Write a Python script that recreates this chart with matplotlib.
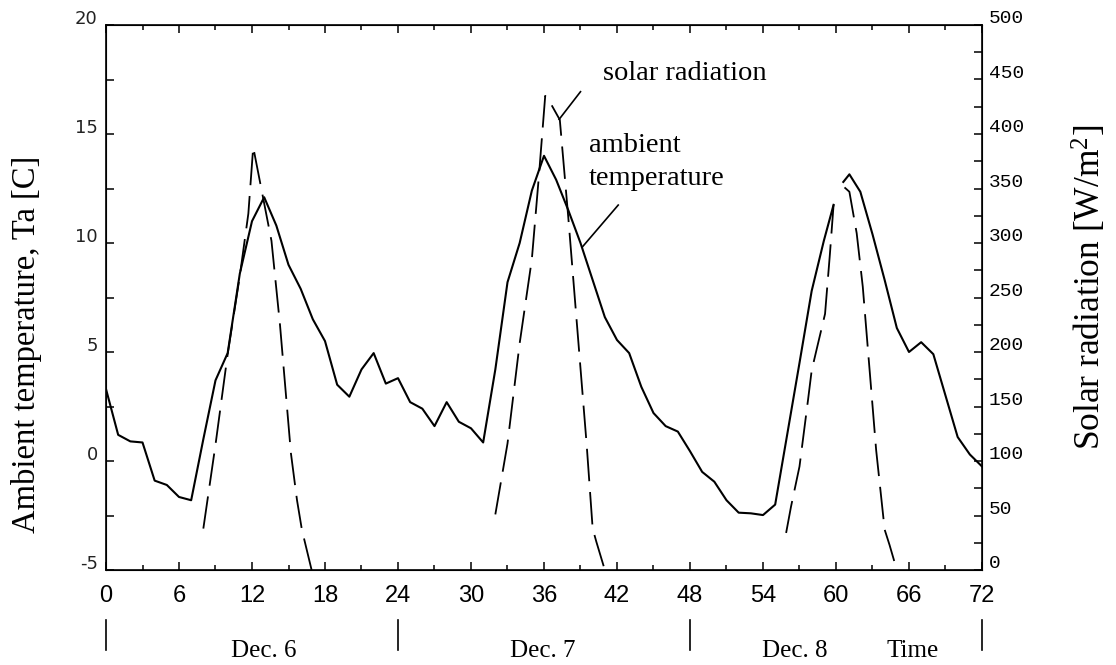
import numpy as np
import matplotlib
matplotlib.use("Agg")
import matplotlib.pyplot as plt
from matplotlib.ticker import MultipleLocator, FuncFormatter
from matplotlib.transforms import ScaledTranslation

plt.rcParams["mathtext.fontset"] = "custom"
plt.rcParams["mathtext.rm"] = "Liberation Serif"
plt.rcParams["mathtext.it"] = "Liberation Serif:italic"

nan = np.nan

# ambient temperature [C], hourly (gap near t=60 as in the original trace)
temp_hours = list(range(0, 60)) + [59.8, 60.3, 60.6, 61.1] + list(range(62, 73))
temp = [3.3, 1.2, 0.9, 0.85, -0.9, -1.1, -1.65, -1.8, 1.0, 3.7,
        4.95, 8.6, 11.0, 12.1, 10.8, 9.0, 7.9, 6.5, 5.5, 3.5,
        2.95, 4.2, 4.95, 3.55, 3.8, 2.7, 2.4, 1.6, 2.7, 1.8,
        1.5, 0.85, 4.2, 8.2, 10.0, 12.4, 14.0, 12.9, 11.5, 10.0,
        8.3, 6.6, 5.55, 4.95, 3.4, 2.2, 1.6, 1.35, 0.45, -0.5,
        -0.95, -1.8, -2.37, -2.4, -2.48, -2.0, 1.25, 4.5, 7.8, 10.1,
        11.75, nan, 12.8, 13.15,
        12.35, 10.4, 8.3, 6.1, 5.0, 5.45, 4.9, 3.0, 1.1, 0.3, -0.25]

# solar radiation [W/m2], three days
solar_hours_d6 = [8.0, 9.0, 10.0, 11.0, 11.7, 12.1, 13.6, 14.3, 15.2, 15.7, 16.1, 16.9]
solar_d6 = [38, 115, 198, 270, 327, 388, 302, 225, 107, 64, 37, 0]
solar_hours_d7 = [32.0, 33.0, 34.0, 35.0, 35.6, 36.1, 36.4, 37.3, 38.0, 39.0, 39.5, 40.0, 40.3, 41.0]
solar_d7 = [51, 116, 208, 285, 364, 435, 431, 413, 323, 185, 116, 38, 26, 0]
solar_hours_d8 = [55.9, 56.3, 57.0, 57.7, 58.0, 58.4, 59.1, 59.5, 59.8, 60.3,
                  60.7, 61.1, 61.7, 62.2, 63.0, 63.3, 64.0, 64.4, 65.0]
solar_d8 = [34, 58, 95, 156, 183, 202, 235, 290, 335, nan,
            351, 347, 309, 260, 151, 110, 37, 23, 0]

day_labels = ["Dec. 6", "Dec. 7", "Dec. 8", "Time"]
day_label_x = [13.0, 35.9, 56.6, 66.3]
day_bounds = [0, 24, 48, 72]

serif = ["Liberation Serif", "DejaVu Serif"]

fig = plt.figure(figsize=(11.16, 6.65), dpi=100)
ax = fig.add_axes([106 / 1116, 95 / 665, 876 / 1116, 545 / 665])
ax2 = ax.twinx()

ax.plot(temp_hours, temp, color="black", lw=1.5)
for h, s in [(solar_hours_d6, solar_d6), (solar_hours_d7, solar_d7), (solar_hours_d8, solar_d8)]:
    ax2.plot(h, s, color="black", lw=1.3, dashes=(18, 6))

ax.set_xlim(0, 72)
ax.set_ylim(-5, 20)
ax2.set_ylim(0, 500)

for spine in ax.spines.values():
    spine.set_linewidth(1.2)

ax.xaxis.set_major_locator(MultipleLocator(6))
ax.xaxis.set_minor_locator(MultipleLocator(3))
ax.tick_params(axis="x", which="major", direction="in", top=True, length=6, width=1.1,
               labelsize=17, pad=11)
ax.tick_params(axis="x", which="minor", direction="in", top=True, length=3.5, width=1.1)
for lab in ax.get_xticklabels():
    lab.set_family("Liberation Sans")

ax.yaxis.set_major_locator(MultipleLocator(5))
ax.yaxis.set_minor_locator(MultipleLocator(2.5))
ax.tick_params(axis="y", which="both", direction="in", right=False, length=6, width=1.1,
               labelsize=13, pad=6)
ax.yaxis.set_major_formatter(FuncFormatter(lambda v, p: "%d" % v))
up = ScaledTranslation(0, 6 / 72, fig.dpi_scale_trans)
for lab in ax.get_yticklabels():
    lab.set_family("DejaVu Sans")
    lab.set_color("#222222")
    lab.set_transform(lab.get_transform() + up)

ax2.yaxis.set_major_locator(MultipleLocator(50))
ax2.yaxis.set_minor_locator(MultipleLocator(25))
ax2.tick_params(axis="y", which="both", direction="in", length=5.5, width=1.1,
                labelsize=14, pad=5)
for lab in ax2.get_yticklabels():
    lab.set_family("Liberation Mono")
    lab.set_transform(lab.get_transform() + up)

# annotations
ax.text(40.85, 17.48, "solar radiation", family=serif, fontsize=20.5, va="baseline")
ax.plot([39.0, 37.24], [16.94, 15.67], color="black", lw=1.2)
ax.text(39.7, 14.17, "ambient", family=serif, fontsize=20.5, va="baseline")
ax.text(39.7, 12.66, "temperature", family=serif, fontsize=20.5, va="baseline")
ax.plot([42.1, 39.17], [11.74, 9.83], color="black", lw=1.2)

# day markers under the axis
xt = ax.get_xaxis_transform()
for b in day_bounds:
    ax.plot([b, b], [-0.092, -0.147], color="black", lw=1.2, transform=xt, clip_on=False)
for lbl, x in zip(day_labels, day_label_x):
    ax.text(x, -0.148, lbl, transform=xt, family=serif, fontsize=18, ha="center", va="center")

fig.text(27 / 1116, 1 - 344 / 665, "Ambient temperature, Ta [C]", rotation=90,
         family=serif, fontsize=23.5, ha="center", va="center")
fig.text(1090 / 1116, 1 - 287 / 665, "Solar radiation [W/m$^2$]", rotation=90,
         family=serif, fontsize=25.5, ha="center", va="center")

fig.savefig("out.png", dpi=100)
